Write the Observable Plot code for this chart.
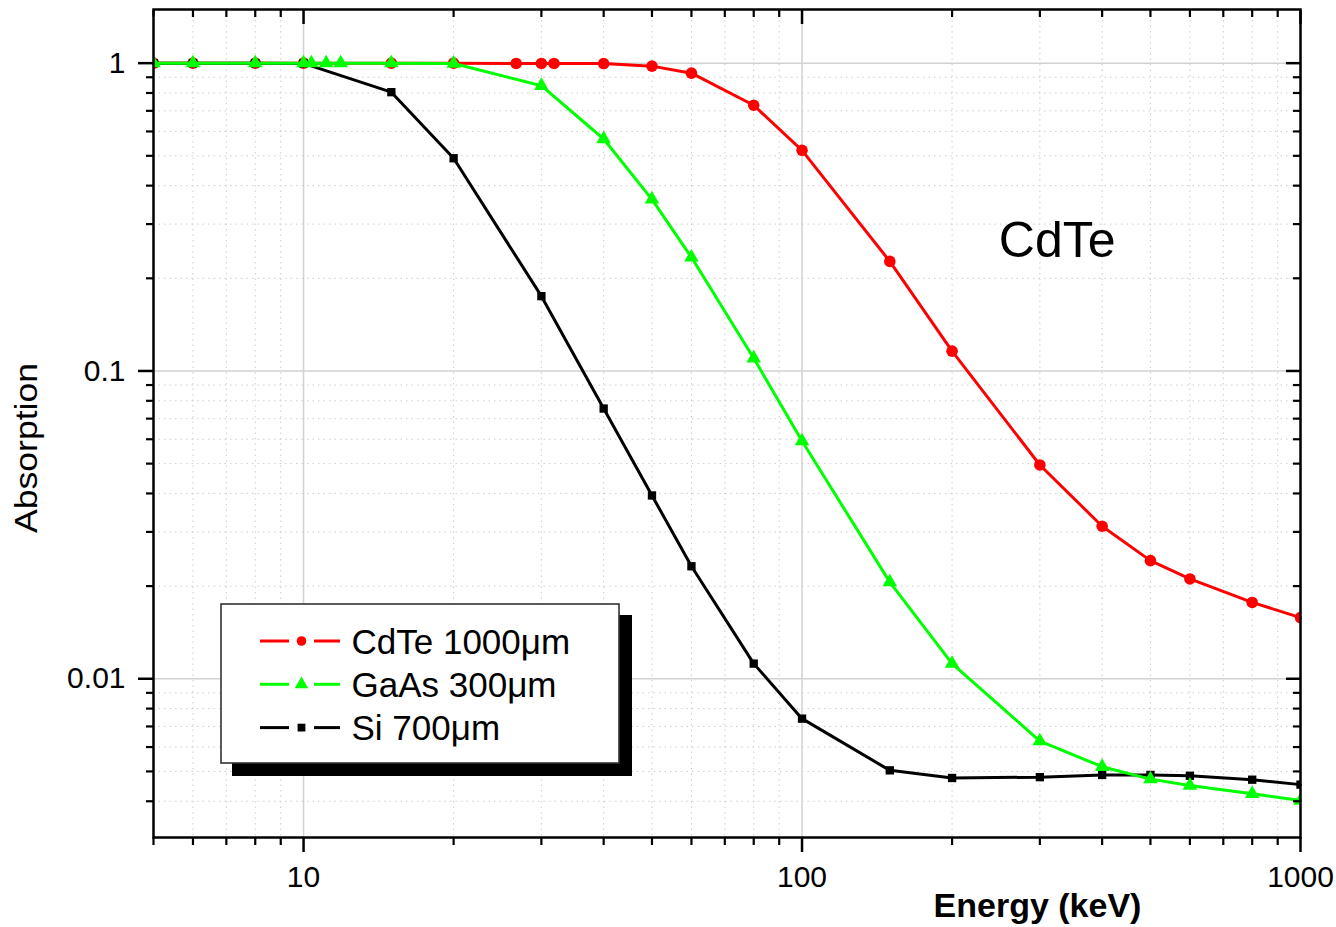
<!DOCTYPE html>
<html><head><meta charset="utf-8">
<script src="https://cdn.jsdelivr.net/npm/d3@7"></script>
<script src="https://cdn.jsdelivr.net/npm/@observablehq/plot@0.6"></script>
<style>
body{margin:0;background:#fff;}
#chart{position:relative;width:1336px;height:927px;}
#chart svg{font-family:"Liberation Sans", Arial, sans-serif;}
</style></head><body><div id="chart"></div>
<script>
// ---- data ----
const energyCdTe = [5,6,8,10,15,20,26.7,30,31.8,40,50,60,80,100,150,200,300,400,500,600,800,1000];
const absCdTe    = [1,1,1,1,1,1,0.998,0.998,0.998,0.997,0.978,0.928,0.730,0.521,0.227,0.116,0.0495,0.0313,0.0242,0.0211,0.0177,0.0158];
const energyGaAs = [5,6,8,10,10.37,11.1,11.87,15,20,30,40,50,60,80,100,150,200,300,400,500,600,800,1000];
const absGaAs    = [1,1,1,1,1,1,1,1,0.998,0.845,0.567,0.361,0.234,0.110,0.0592,0.0206,0.0112,0.00627,0.00518,0.00472,0.00450,0.00423,0.00402];
const energySi   = [5,6,8,10,15,20,30,40,50,60,80,100,150,200,300,400,500,600,800,1000];
const absSi      = [1,1,1,0.998,0.805,0.491,0.175,0.0755,0.0394,0.0232,0.0112,0.00742,0.00504,0.00476,0.00479,0.00487,0.00487,0.00484,0.00470,0.00453];

const seriesNames   = ["CdTe 1000μm","GaAs 300μm","Si 700μm"];
const seriesColors  = ["#ff0000","#00ff00","#000000"];
const seriesSymbols = ["circle","triangle","square"];
const seriesR       = [5.8,5.4,4.7];

const xMajorTicks = [10,100,1000];
const xMinorTicks = [5,6,7,8,9,20,30,40,50,60,70,80,90,200,300,400,500,600,700,800,900];
const yMajorTicks = [0.01,0.1,1];
const yMinorTicks = [0.004,0.005,0.006,0.007,0.008,0.009,0.02,0.03,0.04,0.05,0.06,0.07,0.08,0.09,0.2,0.3,0.4,0.5,0.6,0.7,0.8,0.9];

const annotations = [{energy:325, abs:0.2635, text:"CdTe"}];
const xTitle = "Energy (keV)";
const yTitle = "Absorption";

// ---- tables ----
const energies = [energyCdTe, energyGaAs, energySi];
const values = [absCdTe, absGaAs, absSi];
const series = energies.map((es, s) => es.map((e, i) => ({series: seriesNames[s], energy: e, abs: values[s][i]})));
const drawOrder = [0, 2, 1];

const FONT = '"Liberation Sans", Arial, sans-serif';
const marks = [
  Plot.gridX(xMinorTicks, {stroke:"#cdcdcd", strokeOpacity:1, strokeWidth:1, strokeDasharray:"1.5,4"}),
  Plot.gridY(yMinorTicks, {stroke:"#cdcdcd", strokeOpacity:1, strokeWidth:1, strokeDasharray:"1.5,4"}),
  Plot.gridX(xMajorTicks, {stroke:"#d2d2d2", strokeOpacity:1, strokeWidth:1.5}),
  Plot.gridY(yMajorTicks, {stroke:"#d2d2d2", strokeOpacity:1, strokeWidth:1.5}),
];
for (const s of drawOrder) {
  marks.push(Plot.line(series[s], {x:"energy", y:"abs", stroke:seriesColors[s], strokeWidth:3}));
  marks.push(Plot.dot(series[s], {x:"energy", y:"abs", fill:seriesColors[s], symbol:seriesSymbols[s], r:seriesR[s], clip:true}));
}
marks.push(
  Plot.text(annotations, {x:"energy", y:"abs", text:"text", fontSize:50, fill:"black", textAnchor:"middle", lineAnchor:"middle"}),
  Plot.frame({stroke:"black", strokeWidth:2.5}),
  Plot.axisX(xMajorTicks, {anchor:"bottom", tickSize:15, tickPadding:13, strokeWidth:2.5, tickFormat:d => String(d), fontSize:30, label:null}),
  Plot.axisX(xMinorTicks, {anchor:"bottom", tickSize:8, strokeWidth:2.2, tickFormat:() => "", label:null}),
  Plot.axisX(xMajorTicks, {anchor:"top", tickSize:-14, strokeWidth:2.5, tickFormat:() => "", label:null}),
  Plot.axisX(xMinorTicks, {anchor:"top", tickSize:-7, strokeWidth:2.2, tickFormat:() => "", label:null}),
  Plot.axisY(yMajorTicks, {anchor:"left", tickSize:15, tickPadding:13, strokeWidth:2.5, tickFormat:d => String(d), fontSize:30, label:null}),
  Plot.axisY(yMinorTicks, {anchor:"left", tickSize:7, strokeWidth:2.2, tickFormat:() => "", label:null}),
  Plot.axisY(yMajorTicks, {anchor:"right", tickSize:-15, strokeWidth:2.5, tickFormat:() => "", label:null}),
  Plot.axisY(yMinorTicks, {anchor:"right", tickSize:-8, strokeWidth:2.2, tickFormat:() => "", label:null})
);

const chart = Plot.plot({
  width:1336, height:927,
  marginLeft:153, marginRight:36, marginTop:9, marginBottom:90,
  x:{type:"log", domain:[5,1000]},
  y:{type:"log", domain:[0.00305,1.494]},
  style:{fontFamily:FONT, fontSize:"30px", color:"black", background:"white"},
  marks
});
document.getElementById("chart").appendChild(chart);

// ---- axis titles and legend (decorations) ----
const svg = d3.select(chart);
svg.append("text").text(yTitle)
  .attr("transform", "translate(37,448) rotate(-90)")
  .attr("text-anchor", "middle").attr("font-size", 32).attr("fill", "black")
  .attr("font-family", FONT).attr("textLength", 170).attr("lengthAdjust", "spacingAndGlyphs");
svg.append("text").text(xTitle)
  .attr("x", 1037.5).attr("y", 916.5)
  .attr("text-anchor", "middle").attr("font-size", 34).attr("font-weight", "bold").attr("fill", "black")
  .attr("font-family", FONT);

const lg = svg.append("g");
lg.append("rect").attr("x", 232).attr("y", 615).attr("width", 400).attr("height", 161).attr("fill", "black");
lg.append("rect").attr("x", 221).attr("y", 604).attr("width", 398).attr("height", 159)
  .attr("fill", "white").attr("stroke", "#333").attr("stroke-width", 1.6);
const d3sym = {circle:d3.symbolCircle, triangle:d3.symbolTriangle, square:d3.symbolSquare};
const legendR = [4.8, 5.0, 4.4];
seriesNames.forEach((name, i) => {
  const cy = 641 + i * 43.3;
  lg.append("line").attr("x1", 260).attr("x2", 289).attr("y1", cy).attr("y2", cy)
    .attr("stroke", seriesColors[i]).attr("stroke-width", 3);
  lg.append("line").attr("x1", 314).attr("x2", 340).attr("y1", cy).attr("y2", cy)
    .attr("stroke", seriesColors[i]).attr("stroke-width", 3);
  lg.append("path").attr("d", d3.symbol(d3sym[seriesSymbols[i]], Math.PI * legendR[i] * legendR[i])())
    .attr("transform", `translate(301.5,${cy})`).attr("fill", seriesColors[i]);
  lg.append("text").text(name).attr("x", 351.5).attr("y", cy + 12.5)
    .attr("text-anchor", "start")
    .attr("font-size", 35).attr("fill", "black").attr("font-family", FONT);
});
</script></body></html>
